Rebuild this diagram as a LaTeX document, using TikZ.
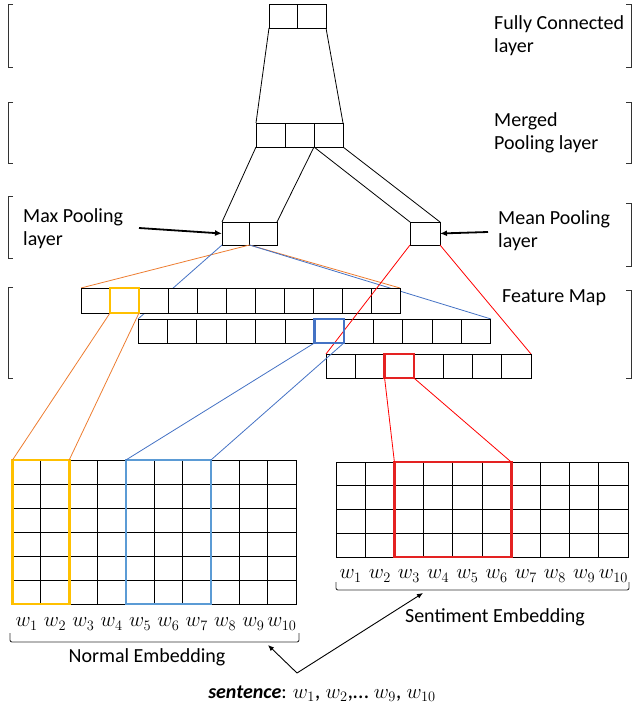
\documentclass[tikz,border=0pt]{standalone}
\usepackage{fontspec}
\setmainfont{Carlito}
\usetikzlibrary{arrows.meta}
\definecolor{fmorange}{HTML}{ED7D31}
\definecolor{fmyellow}{HTML}{FFC000}
\definecolor{fmblue}{HTML}{4472C4}
\definecolor{fmlblue}{HTML}{5B9BD5}
\definecolor{fmred}{HTML}{FF0000}
\definecolor{fmdred}{HTML}{E42222}
\begin{document}
\begin{tikzpicture}[x=1pt,y=-1pt,
  cell/.style={draw=black, fill=white, line width=0.9pt, inner sep=0pt, outer sep=0pt},
  link/.style={line width=0.8pt},
  hilite/.style={line width=2.6pt},
  brk/.style={line width=0.9pt, draw=black!80},
  lbl/.style={font=\fontsize{20}{23}\selectfont, align=left, anchor=west, inner sep=0pt},
  txt/.style={font=\fontsize{20}{23}\selectfont, inner sep=0pt},
  wtxt/.style={font=\fontsize{22.5}{24}\selectfont, inner sep=0pt},
  bigarrow/.style={line width=1.8pt, -{Latex[length=7pt,width=6pt]}},
  thinarrow/.style={line width=0.9pt, -{Latex[length=6pt,width=5pt]}}]
\useasboundingbox (0,0) rectangle (632,711);

% side brackets
\foreach \ya/\yb in {4/67, 102/163, 196/258, 287/378}
  \draw[brk] (13,\ya) -- (8,\ya) -- (8,\yb) -- (13,\yb);
\foreach \ya/\yb in {4/67, 102/163, 203/266, 290/378}
  \draw[brk] (626,\ya) -- (631,\ya) -- (631,\yb) -- (626,\yb);

% fully connected layer
\foreach \i in {1,2}
  \node[cell, minimum width=28.5pt, minimum height=24pt] (fc\i) at ({269+14.25+28.5*(\i-1)},16) {};
% merged pooling layer
\foreach \i in {1,2,3}
  \node[cell, minimum width=29pt, minimum height=24pt] (mg\i) at ({256+14.5+29*(\i-1)},135) {};
% max pooling and mean pooling
\foreach \i in {1,2}
  \node[cell, minimum width=27.5pt, minimum height=23pt] (mx\i) at ({222+13.75+27.5*(\i-1)},233.5) {};
\node[cell, minimum width=30pt, minimum height=23pt] (mean) at (425,233.5) {};

% black links between the upper layers
\draw[link] (fc1.south west) -- (mg1.north west);
\draw[link] (fc2.south east) -- (mg3.north east);
\draw[link] (mg1.south west) -- (mx1.north west);
\draw[link] (mg3.south west) -- (mx2.north east);
\draw[link] (mg3.south west) -- (mean.north west);
\draw[link] (mg3.south east) -- (mean.north east);

% links from max pooling into the feature maps
\coordinate (mxmid) at (mx1.south east);
\draw[link, fmorange] (mxmid) -- ({81},288);
\draw[link, fmorange] (mxmid) -- ({400},288);
\draw[link, fmblue] (mx1.south west) -- ({138},319);
\draw[link, fmblue] (mxmid) -- ({491},319);

% feature maps, rows one and two
\foreach \i in {1,...,11}
  \node[cell, minimum width=29pt, minimum height=25pt] (fa\i) at ({81+14.5+29*(\i-1)},300.5) {};
\foreach \i in {1,...,12}
  \node[cell, minimum width=29.4pt, minimum height=24pt] (fb\i) at ({138+14.7+29.4*(\i-1)},331) {};

% mean pooling into the third feature map
\draw[link, fmred] (mean.south west) -- (326,354);
\draw[link, fmred] (mean.south east) -- (531,354);

\foreach \i in {1,...,7}
  \node[cell, minimum width=29.3pt, minimum height=24pt] (fc-\i) at ({326+14.65+29.3*(\i-1)},366) {};

% highlighted feature cells
\draw[hilite, fmyellow] (fa2.north west) rectangle (fa2.south east);
\draw[hilite, fmblue] (fb7.north west) rectangle (fb7.south east);
\draw[hilite, fmdred] (fc-3.north west) rectangle (fc-3.south east);

% normal embedding grid
\foreach \c in {1,...,10}
  \foreach \r in {1,...,6}
    \node[cell, minimum width=28.35pt, minimum height=24pt] (n\c-\r) at ({12.5+14.175+28.35*(\c-1)},{460+12+24*(\r-1)}) {};
% sentiment embedding grid
\foreach \c in {1,...,10}
  \foreach \r in {1,...,4}
    \node[cell, minimum width=29.2pt, minimum height=23.75pt] (s\c-\r) at ({336+14.6+29.2*(\c-1)},{462+11.875+23.75*(\r-1)}) {};

% windows over the embeddings
\draw[hilite, fmyellow] (n1-1.north west) rectangle (n2-6.south east);
\draw[hilite, fmlblue] (n5-1.north west) rectangle (n7-6.south east);
\draw[hilite, fmdred] (s3-1.north west) rectangle (s6-4.south east);

% links from feature cells down to the windows
\draw[link, fmorange] (fa2.south west) -- (n1-1.north west);
\draw[link, fmorange] (fa2.south east) -- (n2-1.north east);
\draw[link, fmblue] (fb7.south west) -- (n5-1.north west);
\draw[link, fmblue] (fb7.south east) -- (n7-1.north east);
\draw[link, fmred] (fc-3.south west) -- (s3-1.north west);
\draw[link, fmred] (fc-3.south east) -- (s6-1.north east);

% word labels
\foreach \c in {1,...,10}
  \node[wtxt] (nw\c) at ({12.5+14.175+28.35*(\c-1)},624) {$w_{\c}$};
\foreach \c in {1,...,10}
  \node[wtxt] (sw\c) at ({336+14.6+29.2*(\c-1)},576) {$w_{\c}$};

% brackets under the word rows
\coordinate (nbl) at (10,633);
\coordinate (nbr) at (299,633);
\draw[brk, rounded corners=2pt] (nbl) -- (10,642) -- (299,642) -- (nbr);
\coordinate (sbl) at (336,582);
\coordinate (sbr) at (629,582);
\draw[brk, rounded corners=2pt] (sbl) -- (336,590) -- (629,590) -- (sbr);

% layer names
\node[lbl] (fclab) at (494,36) {Fully Connected\\layer};
\node[lbl] (mglab) at (494,133) {Merged\\Pooling layer};
\node[lbl] (mxlab) at (23,229) {Max Pooling\\layer};
\node[lbl] (mnlab) at (498,231) {Mean Pooling\\layer};
\node[lbl] (fmlab) at (502,298) {Feature Map};
\node[txt] (nelab) at (147,657) {Normal Embedding};
\node[txt] (selab) at (495,617) {Sentiment Embedding};
\node[txt] (sent) at (322,694) {\textbf{\textit{sentence}}: {\fontsize{22.5}{24}\selectfont$w_1$, $w_2$,\dots\ $w_9$, $w_{10}$}};

% pointers
\coordinate (mxtail) at (139,228);
\draw[bigarrow] (mxtail) -- (mx1.west);
\coordinate (mntail) at (488,232);
\draw[bigarrow] (mntail) -- (mean.east);
\coordinate (vjoin) at (297,673);
\coordinate (ntip) at (268,645);
\coordinate (stip) at (423,593);
\draw[thinarrow] (vjoin) -- (ntip);
\draw[thinarrow] (vjoin) -- (stip);
\end{tikzpicture}
\end{document}
